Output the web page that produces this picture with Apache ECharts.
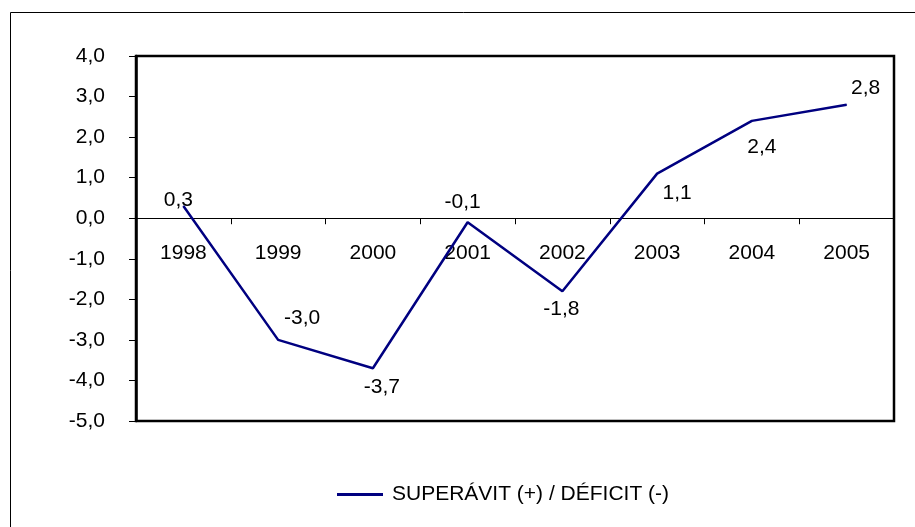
<!DOCTYPE html>
<html>
<head>
<meta charset="utf-8">
<script src="https://cdn.jsdelivr.net/npm/echarts@6/dist/echarts.min.js"></script>
<style>
  html, body { margin: 0; padding: 0; background: #fff; }
  #main { width: 915px; height: 527px; }
</style>
</head>
<body>
<div id="main"></div>
<script>
const years = ['1998', '1999', '2000', '2001', '2002', '2003', '2004', '2005'];
const balance = [0.3, -3.0, -3.7, -0.1, -1.8, 1.1, 2.4, 2.8];
const seriesName = 'SUPERÁVIT (+) / DÉFICIT (-)';
const yTicks = { min: -5, max: 4, step: 1 };
// where each value label sits relative to its point (px)
const labelOffsets = [[-5, -6], [24, -22], [9, 19], [-5, -20], [-1, 18], [20, 20], [10, 26], [19, -16]];

const fmt = v => v.toFixed(1).replace('.', ',');
const font = 'Liberation Sans, Arial, sans-serif';

const chart = echarts.init(document.getElementById('main'));
chart.setOption({
  animation: false,
  textStyle: { fontFamily: font, color: '#000' },
  graphic: [{
    type: 'rect',
    shape: { x: 10.5, y: 12.5, width: 1000, height: 1000 },
    style: { fill: 'none', stroke: '#000', lineWidth: 1 }
  }],
  grid: {
    left: 136, top: 56, right: 21, bottom: 106,
    show: true, borderColor: '#000', borderWidth: 2.5, backgroundColor: 'transparent'
  },
  legend: {
    left: 337, top: 484, padding: 0,
    itemWidth: 46, itemHeight: 3,
    icon: 'rect',
    data: [seriesName],
    textStyle: { fontFamily: font, fontSize: 21, color: '#000', padding: [0, 0, 0, 4] }
  },
  xAxis: {
    type: 'category',
    data: years,
    boundaryGap: true,
    axisLine: { onZero: true, lineStyle: { color: '#000', width: 1 } },
    axisTick: { show: true, inside: false, length: 6, alignWithLabel: false, lineStyle: { color: '#000' } },
    // labels sit just under the zero line, as in the source chart
    axisLabel: { margin: -178, fontSize: 21, color: '#000', fontFamily: font },
    splitLine: { show: false }
  },
  yAxis: {
    type: 'value',
    min: yTicks.min, max: yTicks.max, interval: yTicks.step,
    axisLine: { show: true, lineStyle: { color: '#000', width: 2.5 } },
    axisTick: { show: true, length: 7, lineStyle: { color: '#000' } },
    axisLabel: { margin: 31, fontSize: 21, color: '#000', fontFamily: font, formatter: v => fmt(v) },
    splitLine: { show: false }
  },
  series: [{
    name: seriesName,
    type: 'line',
    data: balance.map((v, i) => ({
      value: v,
      label: { offset: labelOffsets[i] }
    })),
    symbol: 'circle',
    symbolSize: 1,
    showSymbol: true,
    itemStyle: { color: '#000080' },
    lineStyle: { color: '#000080', width: 2.5 },
    label: {
      show: true,
      position: 'inside',
      fontSize: 21,
      color: '#000',
      fontFamily: font,
      formatter: p => fmt(p.value)
    }
  }]
});
</script>
</body>
</html>
